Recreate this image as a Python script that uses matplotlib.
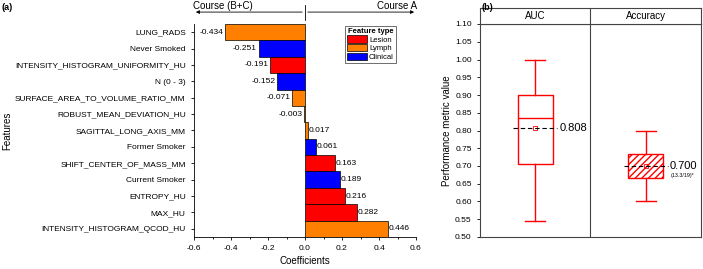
import matplotlib.pyplot as plt
from matplotlib.patches import Patch

plt.rcParams['font.family'] = ['Liberation Sans', 'DejaVu Sans']

# panel (a) data
features = ['LUNG_RADS', 'Never Smoked', 'INTENSITY_HISTOGRAM_UNIFORMITY_HU', 'N (0 - 3)',
            'SURFACE_AREA_TO_VOLUME_RATIO_MM', 'ROBUST_MEAN_DEVIATION_HU', 'SAGITTAL_LONG_AXIS_MM',
            'Former Smoker', 'SHIFT_CENTER_OF_MASS_MM', 'Current Smoker', 'ENTROPY_HU',
            'MAX_HU', 'INTENSITY_HISTOGRAM_QCOD_HU']
coefs = [-0.434, -0.251, -0.191, -0.152, -0.071, -0.003, 0.017,
         0.061, 0.163, 0.189, 0.216, 0.282, 0.446]
ftypes = ['Lymph', 'Clinical', 'Lesion', 'Clinical', 'Lymph', 'Lymph', 'Lymph',
          'Clinical', 'Lesion', 'Clinical', 'Lesion', 'Lesion', 'Lymph']
type_colors = {'Lesion': '#FF0000', 'Lymph': '#FF8000', 'Clinical': '#0000FF'}

# panel (b) data
metrics = ['AUC', 'Accuracy']
whis_lo = [0.545, 0.600]
q1 = [0.705, 0.667]
med = [0.836, 0.700]
q3 = [0.900, 0.733]
whis_hi = [1.000, 0.800]
means = [0.808, 0.700]

fig = plt.figure(figsize=(7.03, 2.69), dpi=100)

# ---------- (a) ----------
ax = fig.add_axes([194/703, 1-237/269, 222/703, 213/269])
ypos = list(range(len(features)))[::-1]
ax.barh(ypos, coefs, height=1.0, color=[type_colors[t] for t in ftypes],
        edgecolor='black', linewidth=0.5)
for y, v in zip(ypos, coefs):
    if v < 0:
        ax.text(v - 0.008, y, f'{v:.3f}', ha='right', va='center', fontsize=6)
    else:
        ax.text(v + 0.004, y, f'{v:.3f}', ha='left', va='center', fontsize=6)
ax.set_yticks(ypos)
ax.set_yticklabels(features, fontsize=6)
ax.set_ylim(-0.5, len(features) - 0.5)
ax.set_xlim(-0.6, 0.6)
ax.set_xticks([-0.6, -0.4, -0.2, 0.0, 0.2, 0.4, 0.6])
ax.set_xticks([-0.5, -0.3, -0.1, 0.1, 0.3, 0.5], minor=True)
ax.set_xticklabels(['-0.6', '-0.4', '-0.2', '0.0', '0.2', '0.4', '0.6'], fontsize=6)
ax.tick_params(axis='both', length=2.5, width=0.6)
ax.tick_params(axis='x', which='minor', length=1.5, width=0.6)
for s in ['top', 'right']:
    ax.spines[s].set_visible(False)
for s in ['left', 'bottom']:
    ax.spines[s].set_linewidth(0.6)
ax.set_xlabel('Coefficients', fontsize=7, labelpad=3)
ax.set_ylabel('Features', fontsize=7)
ax.yaxis.set_label_coords(-0.82, 0.5)

tr = ax.get_xaxis_transform()
ax.annotate('', xy=(-0.605, 1.056), xytext=(0, 1.056), xycoords=tr, textcoords=tr,
            arrowprops=dict(arrowstyle='-|>', lw=0.6, color='black', mutation_scale=5),
            annotation_clip=False)
ax.annotate('', xy=(0.605, 1.056), xytext=(0, 1.056), xycoords=tr, textcoords=tr,
            arrowprops=dict(arrowstyle='-|>', lw=0.6, color='black', mutation_scale=5),
            annotation_clip=False)
ax.plot([0, 0], [1.02, 1.09], transform=tr, color='black', lw=0.6, clip_on=False)
ax.text(-0.443, 1.085, 'Course (B+C)', transform=tr, ha='center', va='center', fontsize=7)
ax.text(0.605, 1.085, 'Course A', transform=tr, ha='right', va='center', fontsize=7)

handles = [Patch(facecolor=type_colors[k], edgecolor='black', linewidth=0.5, label=k)
           for k in ['Lesion', 'Lymph', 'Clinical']]
leg = ax.legend(handles=handles, title='Feature type', loc='upper left',
                bbox_to_anchor=(0.68, 0.99), fontsize=5.5, title_fontsize=5.5,
                frameon=True, fancybox=False, edgecolor='black', borderpad=0.25,
                handlelength=2.6, handleheight=1.1, handletextpad=0.3,
                labelspacing=0.05, borderaxespad=0)
leg.get_title().set_fontweight('bold')
leg.get_frame().set_linewidth(0.5)

fig.text(2/703, 1-8/269, '(a)', fontsize=6.5, fontweight='bold', va='center')
fig.text(481/703, 1-8/269, '(b)', fontsize=6.5, fontweight='bold', va='center')

# ---------- (b) ----------
bx = fig.add_axes([480/703, 1-237/269, 221/703, 213/269])
stats = []
for i in range(len(metrics)):
    stats.append(dict(label=metrics[i], whislo=whis_lo[i], q1=q1[i], med=med[i],
                      q3=q3[i], whishi=whis_hi[i], mean=means[i], fliers=[]))
bp = bx.bxp(stats, positions=[0, 1], widths=0.32, patch_artist=True, showmeans=True,
            boxprops=dict(edgecolor='red', linewidth=1.0),
            whiskerprops=dict(color='red', linewidth=1.0),
            capprops=dict(color='red', linewidth=1.0),
            medianprops=dict(color='red', linewidth=1.0),
            meanprops=dict(marker='s', markersize=3, markerfacecolor='none',
                           markeredgecolor='red', markeredgewidth=0.6),
            capwidths=0.18)
bp['boxes'][0].set_facecolor('white')
bp['boxes'][1].set_facecolor('white')
bp['boxes'][1].set_hatch('/////')
bp['medians'][1].set_visible(False)
bx.hlines(means, [p - 0.2 for p in [0, 1]], [p + 0.2 for p in [0, 1]],
          colors='black', linestyles=(0, (4, 2.5)), linewidth=0.8, zorder=4)
bx.text(0.225, means[0], f'{means[0]:.3f}', ha='left', va='center', fontsize=8)
bx.text(1.215, means[1], f'{means[1]:.3f}', ha='left', va='center', fontsize=8)
bx.text(1.225, 0.672, '(13.3/19)*', ha='left', va='center', fontsize=3.8)
bx.axvline(0.5, color='#444444', lw=0.8)
bx.set_xlim(-0.5, 1.5)
bx.set_ylim(0.5, 1.1)
yt = [0.50 + 0.05 * k for k in range(13)]
bx.set_yticks(yt)
bx.set_yticklabels([f'{t:.2f}' for t in yt], fontsize=6)
bx.set_xticks([])
bx.tick_params(axis='y', length=2.5, width=0.6)
for s in bx.spines.values():
    s.set_color('#444444')
    s.set_linewidth(0.8)
bx.set_ylabel('Performance metric value', fontsize=7)
bx.yaxis.set_label_coords(-0.125, 0.5)

hx = fig.add_axes([480/703, 1-24/269, 221/703, 16/269])
hx.set_xlim(-0.5, 1.5)
hx.set_ylim(0, 1)
hx.axvline(0.5, color='#444444', lw=0.8)
for i, m in enumerate(metrics):
    hx.text(i, 0.5, m, ha='center', va='center', fontsize=7)
hx.set_xticks([])
hx.set_yticks([])
for s in hx.spines.values():
    s.set_color('#444444')
    s.set_linewidth(0.8)

fig.savefig('out.png', dpi=100)
